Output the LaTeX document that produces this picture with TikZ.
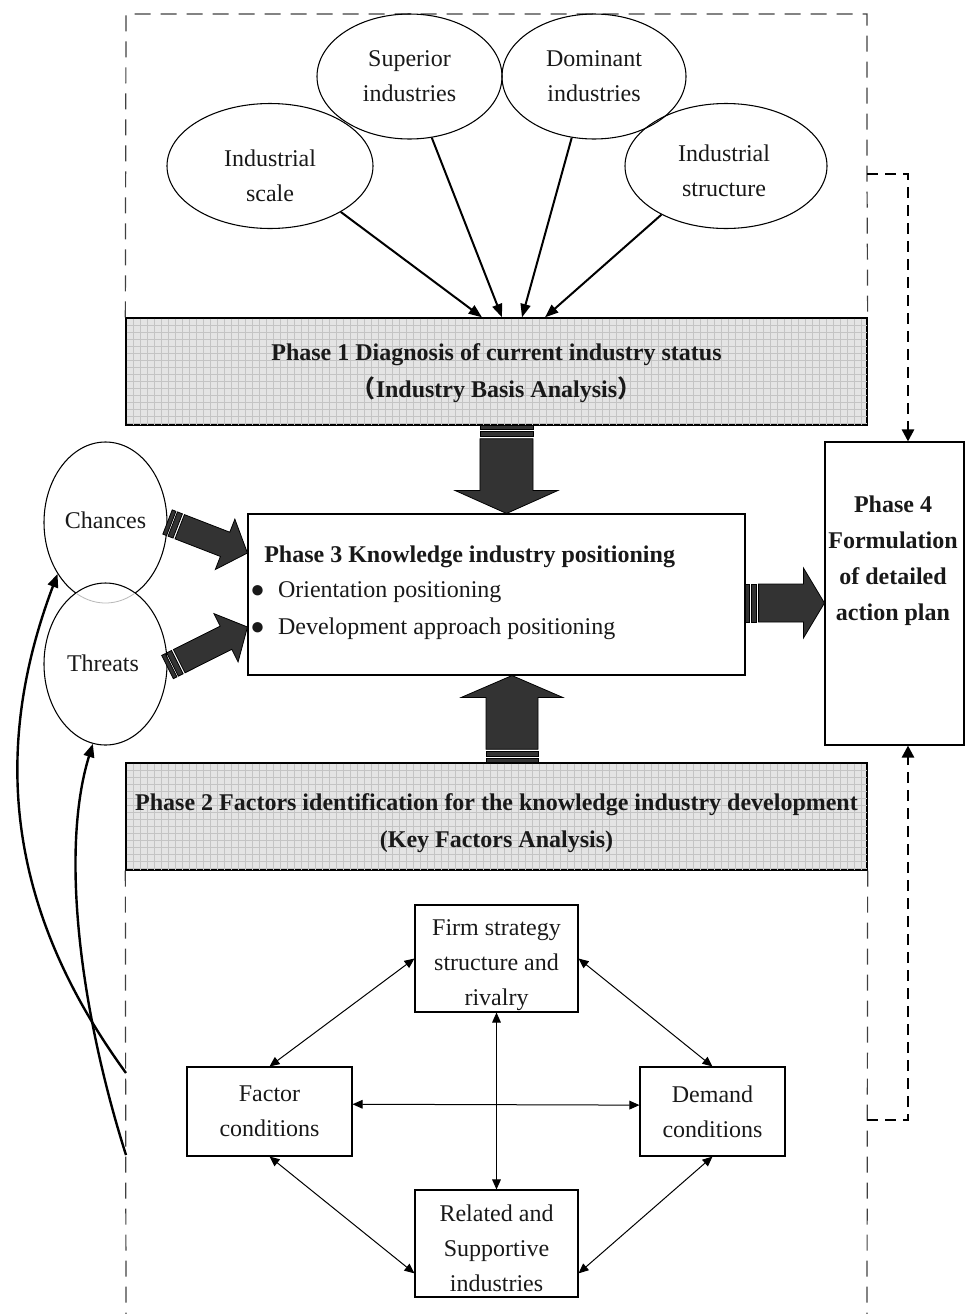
\documentclass[tikz,border=0pt]{standalone}
\usepackage{fontspec}
\setmainfont{Liberation Serif}
\newfontfamily\cjkfont{Noto Sans CJK SC}
\usetikzlibrary{shapes.geometric,arrows.meta,calc}
\definecolor{arrowfill}{HTML}{333333}
\definecolor{gridbg}{HTML}{E4E4E4}
\definecolor{gridln}{HTML}{C4C4C4}
\newcommand\myblockarrow[5]{%
  \coordinate (bk-a) at ($(#1)!3pt!(#2)$);
  \coordinate (bk-b) at ($(#1)!4.2pt!(#2)$);
  \coordinate (bk-c) at ($(#1)!8.2pt!(#2)$);
  \coordinate (bk-d) at ($(#1)!9.8pt!(#2)$);
  \coordinate (bk-e) at ($(#2)!#5!(#1)$);
  \filldraw[blkarrow] ($(#1)!#3!90:(#2)$) -- ($(bk-a)!#3!90:(#2)$) -- ($(bk-a)!#3!-90:(#2)$) -- ($(#1)!#3!-90:(#2)$) -- cycle;
  \filldraw[blkarrow] ($(bk-b)!#3!90:(#2)$) -- ($(bk-c)!#3!90:(#2)$) -- ($(bk-c)!#3!-90:(#2)$) -- ($(bk-b)!#3!-90:(#2)$) -- cycle;
  \filldraw[blkarrow] ($(bk-d)!#3!90:(#2)$) -- ($(bk-e)!#3!90:(#2)$) -- ($(bk-e)!#4!90:(#2)$) -- (#2) -- ($(bk-e)!#4!-90:(#2)$) -- ($(bk-e)!#3!-90:(#2)$) -- ($(bk-d)!#3!-90:(#2)$) -- cycle;
}
\newcommand\mybullet{●\hspace{10pt}}
\begin{document}
\begin{tikzpicture}[x=0.75pt,y=-0.75pt,
  txt/.style={font=\fontsize{18}{26.25}\selectfont, align=center, inner sep=0pt, text=black!90},
  boldtxt/.style={font=\fontsize{18}{27.75}\selectfont\bfseries, align=center, inner sep=0pt, text=black!90},
  ell/.style={ellipse, draw, line width=0.8pt, inner sep=0pt, txt},
  pbox/.style={rectangle, draw, line width=0.8pt, inner sep=0pt, txt},
  phasebox/.style={rectangle, draw, line width=1pt, fill=gridbg, inner sep=0pt},
  gridline/.style={draw=gridln, line width=0.35pt},
  blkarrow/.style={fill=arrowfill, draw=black, line width=0.6pt, line join=miter},
  framedash/.style={draw=black!75, line width=0.9pt, dash pattern=on 12pt off 7.5pt},
  dashconn/.style={line width=1.9pt, dash pattern=on 8.25pt off 5.25pt, -{Triangle[length=9pt,width=9pt]}},
  toparr/.style={line width=1.5pt, -{Triangle[length=10pt,width=7.5pt]}},
  parr/.style={line width=0.75pt, {Triangle[length=7.5pt,width=6.5pt]}-{Triangle[length=7.5pt,width=6.5pt]}},
  carr/.style={line width=1.8pt, -{Triangle[length=10pt,width=8pt]}}
]
\useasboundingbox (0,0) rectangle (965,1314);

% ---------- frame coordinates ----------
\coordinate (ftl) at (126,14);
\coordinate (ftr) at (867,14);
\coordinate (fbranch) at (867,174);
\coordinate (fbranchb) at (867,1120);
\coordinate (fbl) at (126,1314);
\coordinate (fbr) at (867,1314);
\coordinate (cs1) at (126,1073);
\coordinate (cs2) at (126,1155);

% ---------- phase boxes ----------
\node[phasebox, minimum width=555.75pt, minimum height=80.25pt] (p1) at (496.5,371.5) {};
\foreach \gx in {133,140,...,866} \draw[gridline] (\gx,318.5) -- (\gx,424.5);
\foreach \gy in {325,332,...,424} \draw[gridline] (126.5,\gy) -- (866.5,\gy);
\draw[line width=1pt] (p1.north west) rectangle (p1.south east);

\node[phasebox, minimum width=555.75pt, minimum height=80.25pt] (p2) at (496.5,816.5) {};
\foreach \gx in {133,140,...,866} \draw[gridline] (\gx,763.5) -- (\gx,869.5);
\foreach \gy in {770,777,...,869} \draw[gridline] (126.5,\gy) -- (866.5,\gy);
\draw[line width=1pt] (p2.north west) rectangle (p2.south east);

\node[boldtxt] (p1t) at ($(p1.center)+(0,2)$) {Phase 1 Diagnosis of current industry status\\{\cjkfont （}Industry Basis Analysis{\cjkfont ）}};
\node[boldtxt] (p2t) at ($(p2.center)+(0,7)$) {Phase 2 Factors identification for the knowledge industry development\\(Key Factors Analysis)};

\node[pbox, minimum width=372.75pt, minimum height=120.75pt] (p3) at (496.5,594.5) {};
\node[boldtxt, anchor=west] (p3a) at (264,557) {Phase 3 Knowledge industry positioning};
\node[txt, anchor=west] (p3b) at (250,592) {\mybullet Orientation positioning};
\node[txt, anchor=west] (p3c) at (250,629) {\mybullet Development approach positioning};

\node[pbox, minimum width=104.25pt, minimum height=227.25pt] (p4) at (894.5,593.5) {};
\node[boldtxt, font=\fontsize{18}{27}\selectfont\bfseries] (p4t) at (893,561) {Phase 4\\Formulation\\of detailed\\action plan};

% ---------- frame ----------
\draw[framedash] (p1.north west) -- (ftl) -- (ftr) -- (fbranch) -- (p1.north east);
\draw[framedash] (p2.south west) -- (fbl);
\draw[framedash] (p2.south east) -- (fbr);

% ---------- top ellipses ----------
\node[ell, minimum width=154.5pt, minimum height=93.75pt] (scale) at (270,166) {};
\node[txt] (scalet) at (270,176) {Industrial\\scale};
\node[ell, minimum width=138.75pt, minimum height=93.75pt] (superior) at (409.5,76.5) {Superior\\industries};
\node[ell, minimum width=138pt, minimum height=93.75pt] (dominant) at (594,76.5) {Dominant\\industries};
\node[ell, minimum width=151.5pt, minimum height=93.75pt] (structure) at (726,166) {};
\node[txt] (structuret) at (724,171) {Industrial\\structure};

\draw[toparr] (scale.-33.5) -- ($(p1.north)+(-14.5,0)$);
\draw[toparr] (superior.-70) -- ($(p1.north)+(5.5,0)$);
\draw[toparr] (dominant.-110) -- ($(p1.north)+(25.5,0)$);
\draw[toparr] (structure.-143) -- ($(p1.north)+(48.5,0)$);

% ---------- chances / threats ----------
\node[ell, minimum width=92.25pt, minimum height=120.75pt] (chances) at (105.5,522.5) {};
\node[ell, fill=white, minimum width=92.25pt, minimum height=121.5pt] (threats) at (105.5,664) {};
\begin{scope}
  \clip (threats.center) ellipse [x radius=61, y radius=80.5];
  \draw[gray!55, line width=0.6pt] (chances.center) ellipse [x radius=61.5, y radius=80.5];
\end{scope}
\node[txt] (chancest) at (105.5,520) {Chances};
\node[txt] (threatst) at (103,663) {Threats};

% ---------- block arrows ----------
\coordinate (ba1t) at ($(p1.south)+(10,0)$);
\coordinate (ba1h) at ($(p3.north)+(10,0)$);
\myblockarrow{ba1t}{ba1h}{19.9pt}{38.6pt}{17.25pt}
\coordinate (ba2t) at ($(p2.north)+(15.5,0)$);
\coordinate (ba2h) at ($(p3.south)+(15.5,0)$);
\myblockarrow{ba2t}{ba2h}{19.5pt}{38.25pt}{16.5pt}
\coordinate (ba3t) at ($(p3.east)+(0,8.5)$);
\coordinate (ba3h) at ($(p4.west)+(0,9.5)$);
\myblockarrow{ba3t}{ba3h}{14.25pt}{26.25pt}{15.75pt}
\coordinate (ba4t) at ($(chances.east)+(0,-0.5)$);
\coordinate (ba4h) at ($(p3.west)+(0,-41.5)$);
\myblockarrow{ba4t}{ba4h}{9.75pt}{20.25pt}{18pt}
\coordinate (ba5t) at ($(threats.east)+(0,3)$);
\coordinate (ba5h) at ($(p3.west)+(0,32.5)$);
\myblockarrow{ba5t}{ba5h}{9.75pt}{20.25pt}{18pt}

% ---------- dashed links to phase 4 ----------
\draw[dashconn] (fbranch) -| ($(p4.north)+(13.5,0)$);
\draw[dashconn] (fbranchb) -| ($(p4.south)+(13.5,0)$);

% ---------- Porter diamond ----------
\node[pbox, minimum width=122.25pt, minimum height=80.25pt] (firm) at (496.5,958.5) {};
\node[txt] (firmt) at (496.5,965) {Firm strategy\\structure and\\rivalry};
\node[pbox, minimum width=123.75pt, minimum height=66.75pt] (factor) at (269.5,1111.5) {Factor\\conditions};
\node[pbox, minimum width=108.75pt, minimum height=66.75pt] (demand) at (712.5,1111.5) {Demand\\conditions};
\node[pbox, minimum width=122.25pt, minimum height=80.25pt] (related) at (496.5,1243.5) {};
\node[txt] (relatedt) at (496.5,1248) {Related and\\Supportive\\industries};

\draw[parr] (firm.west) -- (factor.north);
\draw[parr] (firm.east) -- (demand.north);
\draw[parr] (factor.south) -- (related.200);
\draw[parr] (demand.south) -- (related.340);
\draw[parr] (factor.5) -- (demand.175);
\draw[parr] (firm.south) -- (related.north);

% ---------- curved arrows ----------
\draw[carr] (cs1) .. controls (0,900) and (-5,740) .. (chances.-133);
\draw[carr] (cs2) .. controls (80,1010) and (60,850) .. (threats.-99);
\end{tikzpicture}
\end{document}
